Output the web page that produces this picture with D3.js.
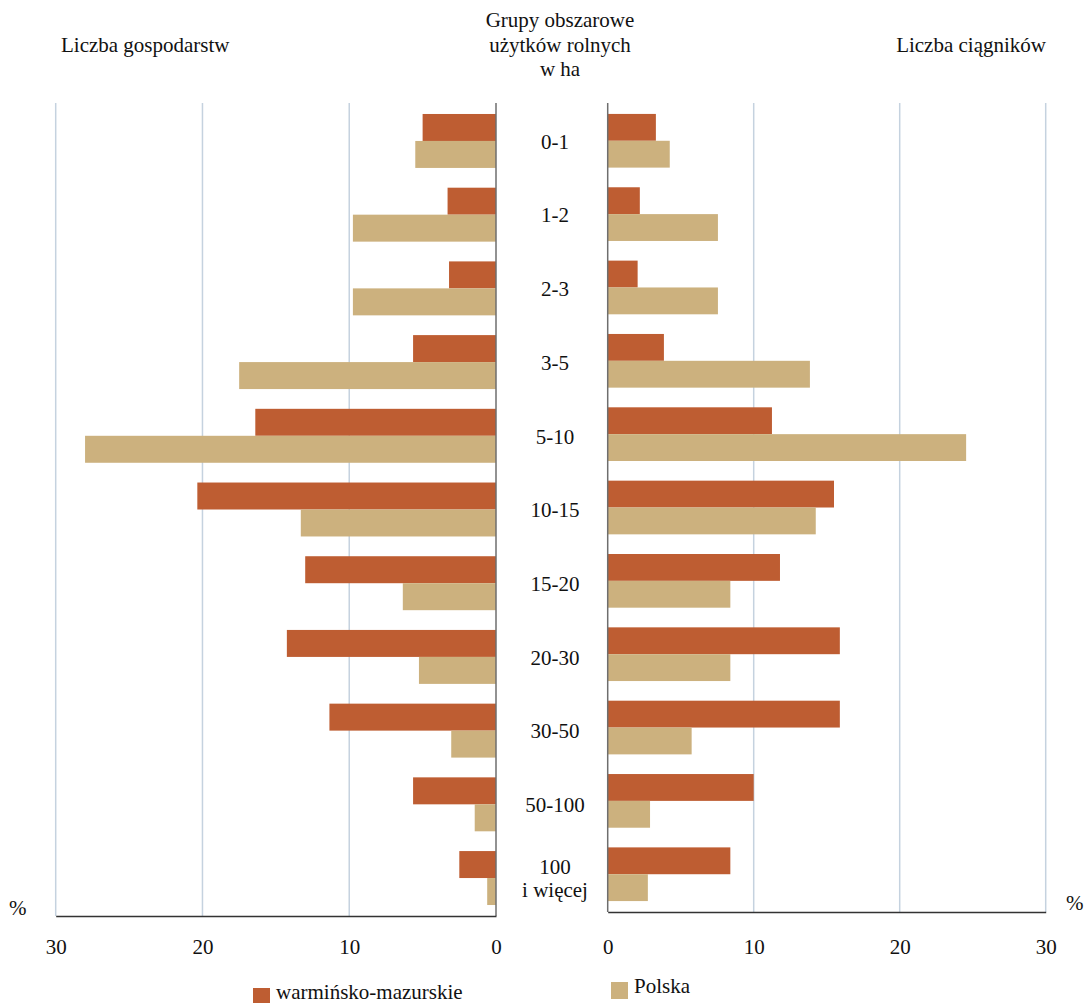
<!DOCTYPE html>
<html>
<head>
<meta charset="utf-8">
<script src="https://cdn.jsdelivr.net/npm/d3@7"></script>
<style>
  html, body { margin: 0; padding: 0; background: #fff; }
  svg text { font-family: "Times New Roman", Times, "Liberation Serif", "DejaVu Serif", serif !important; fill: #111; }
</style>
</head>
<body>
<svg id="chart" width="1085" height="1003"></svg>
<script>
// ---- data ----
const categories = ["0-1", "1-2", "2-3", "3-5", "5-10", "10-15", "15-20", "20-30", "30-50", "50-100", "100\ni więcej"];
const farmsWM     = [5.0, 3.3, 3.2, 5.65, 16.4, 20.35, 13.0, 14.25, 11.35, 5.65, 2.5];
const farmsPL     = [5.5, 9.75, 9.75, 17.5, 28.0, 13.3, 6.35, 5.25, 3.05, 1.45, 0.6];
const tractorsWM  = [3.3, 2.2, 2.05, 3.85, 11.25, 15.5, 11.8, 15.9, 15.9, 10.0, 8.4];
const tractorsPL  = [4.25, 7.55, 7.55, 13.85, 24.55, 14.25, 8.4, 8.4, 5.75, 2.9, 2.75];
const tickValues  = [0, 10, 20, 30];
const seriesNames = ["warmińsko-mazurskie", "Polska"];
const colors      = ["#BE5D32", "#CCB17E"];
const titleLeft   = "Liczba gospodarstw";
const titleRight  = "Liczba ciągników";
const titleCenter = ["Grupy obszarowe", "użytków rolnych", "w ha"];
const unitLabel   = "%";

// ---- layout ----
const svg = d3.select("#chart");
const FS = 21;
const FONT = "'Times New Roman', Times, 'Liberation Serif', 'DejaVu Serif', serif";
const topY = 103;
const leftBottom = 916, rightBottom = 912;

const xL = d3.scaleLinear().domain([0, 30]).range([496, 55.7]);
const xR = d3.scaleLinear().domain([0, 30]).range([607.7, 1045.7]);

const yL = d3.scaleBand().domain(categories).range([topY, leftBottom]).paddingInner(0.268).paddingOuter(0.149);
const yR = d3.scaleBand().domain(categories).range([topY, rightBottom]).paddingInner(0.268).paddingOuter(0.149);

const subL = d3.scaleBand().domain(seriesNames).range([0, yL.bandwidth()]);
const subR = d3.scaleBand().domain(seriesNames).range([0, yR.bandwidth()]);

const gridColor = "#C5D2DF";

// gridlines
svg.append("g").selectAll("line").data(tickValues.filter(d => d > 0)).join("line")
  .attr("x1", d => xL(d)).attr("x2", d => xL(d))
  .attr("y1", topY).attr("y2", leftBottom)
  .attr("stroke", gridColor).attr("stroke-width", 1.5);
svg.append("g").selectAll("line").data(tickValues.filter(d => d > 0)).join("line")
  .attr("x1", d => xR(d)).attr("x2", d => xR(d))
  .attr("y1", topY).attr("y2", rightBottom)
  .attr("stroke", gridColor).attr("stroke-width", 1.5);

// bars
const leftData = categories.map((c, i) => [
  { cat: c, s: seriesNames[0], v: farmsWM[i] },
  { cat: c, s: seriesNames[1], v: farmsPL[i] }
]).flat();
const rightData = categories.map((c, i) => [
  { cat: c, s: seriesNames[0], v: tractorsWM[i] },
  { cat: c, s: seriesNames[1], v: tractorsPL[i] }
]).flat();

svg.append("g").selectAll("rect").data(leftData).join("rect")
  .attr("x", d => xL(d.v)).attr("width", d => xL(0) - xL(d.v))
  .attr("y", d => yL(d.cat) + subL(d.s)).attr("height", subL.bandwidth())
  .attr("fill", d => colors[seriesNames.indexOf(d.s)]);
svg.append("g").selectAll("rect").data(rightData).join("rect")
  .attr("x", xR(0)).attr("width", d => xR(d.v) - xR(0))
  .attr("y", d => yR(d.cat) + subR(d.s)).attr("height", subR.bandwidth())
  .attr("fill", d => colors[seriesNames.indexOf(d.s)]);

// zero lines
svg.append("line").attr("x1", xL(0)).attr("x2", xL(0)).attr("y1", topY).attr("y2", leftBottom)
  .attr("stroke", "#6E6E6E").attr("stroke-width", 1.5);
svg.append("line").attr("x1", xR(0)).attr("x2", xR(0)).attr("y1", topY).attr("y2", rightBottom)
  .attr("stroke", "#6E6E6E").attr("stroke-width", 1.5);

// bottom axes
function styleAxis(g) {
  g.attr("font-family", FONT);
  g.select(".domain").attr("stroke", "#333").attr("stroke-width", 1.5);
  g.selectAll(".tick line").remove();
  g.selectAll(".tick text").attr("font-size", FS).attr("font-family", FONT).attr("fill", "#111");
}
svg.append("g").attr("transform", `translate(0,${leftBottom})`)
  .call(d3.axisBottom(xL).tickValues(tickValues).tickSize(0).tickPadding(23).tickFormat(d3.format("d")))
  .call(styleAxis);
svg.append("g").attr("transform", `translate(0,${rightBottom})`)
  .call(d3.axisBottom(xR).tickValues(tickValues).tickSize(0).tickPadding(27).tickFormat(d3.format("d")))
  .call(styleAxis);

// category labels
const catG = svg.append("g");
categories.forEach(c => {
  const lines = c.split("\n");
  const cy = yL(c) + yL.bandwidth() / 2;
  const lh = 23.3;
  const t = catG.append("text").attr("text-anchor", "middle").attr("font-size", FS).attr("font-family", FONT)
    .attr("x", 555).attr("y", cy + 7.8 - (lines.length - 1) * lh / 2);
  lines.forEach((ln, k) => {
    t.append("tspan").attr("x", 555).attr("dy", k === 0 ? 0 : lh).text(ln);
  });
});

// titles
svg.append("text").attr("x", 61).attr("y", 52).attr("font-size", FS).attr("font-family", FONT).text(titleLeft);
svg.append("text").attr("x", 1046).attr("y", 52).attr("font-size", FS).attr("font-family", FONT).attr("text-anchor", "end").text(titleRight);
titleCenter.forEach((t, i) => {
  svg.append("text").attr("x", 560).attr("y", 27 + i * 24.7).attr("font-size", FS).attr("font-family", FONT)
    .attr("text-anchor", "middle").text(t);
});

// % labels
svg.append("text").attr("x", 9).attr("y", 915).attr("font-size", FS).attr("font-family", FONT).text(unitLabel);
svg.append("text").attr("x", 1066).attr("y", 910).attr("font-size", FS).attr("font-family", FONT).text(unitLabel);

// legend
const legendPos = [{ x: 253, y: 988, tx: 276, ty: 999 }, { x: 611, y: 982, tx: 634, ty: 993 }];
seriesNames.forEach((s, i) => {
  const p = legendPos[i];
  svg.append("rect").attr("x", p.x).attr("y", p.y).attr("width", 17).attr("height", 17).attr("fill", colors[i]);
  svg.append("text").attr("x", p.tx).attr("y", p.ty).attr("font-size", FS).attr("font-family", FONT).text(s);
});
</script>
</body>
</html>
